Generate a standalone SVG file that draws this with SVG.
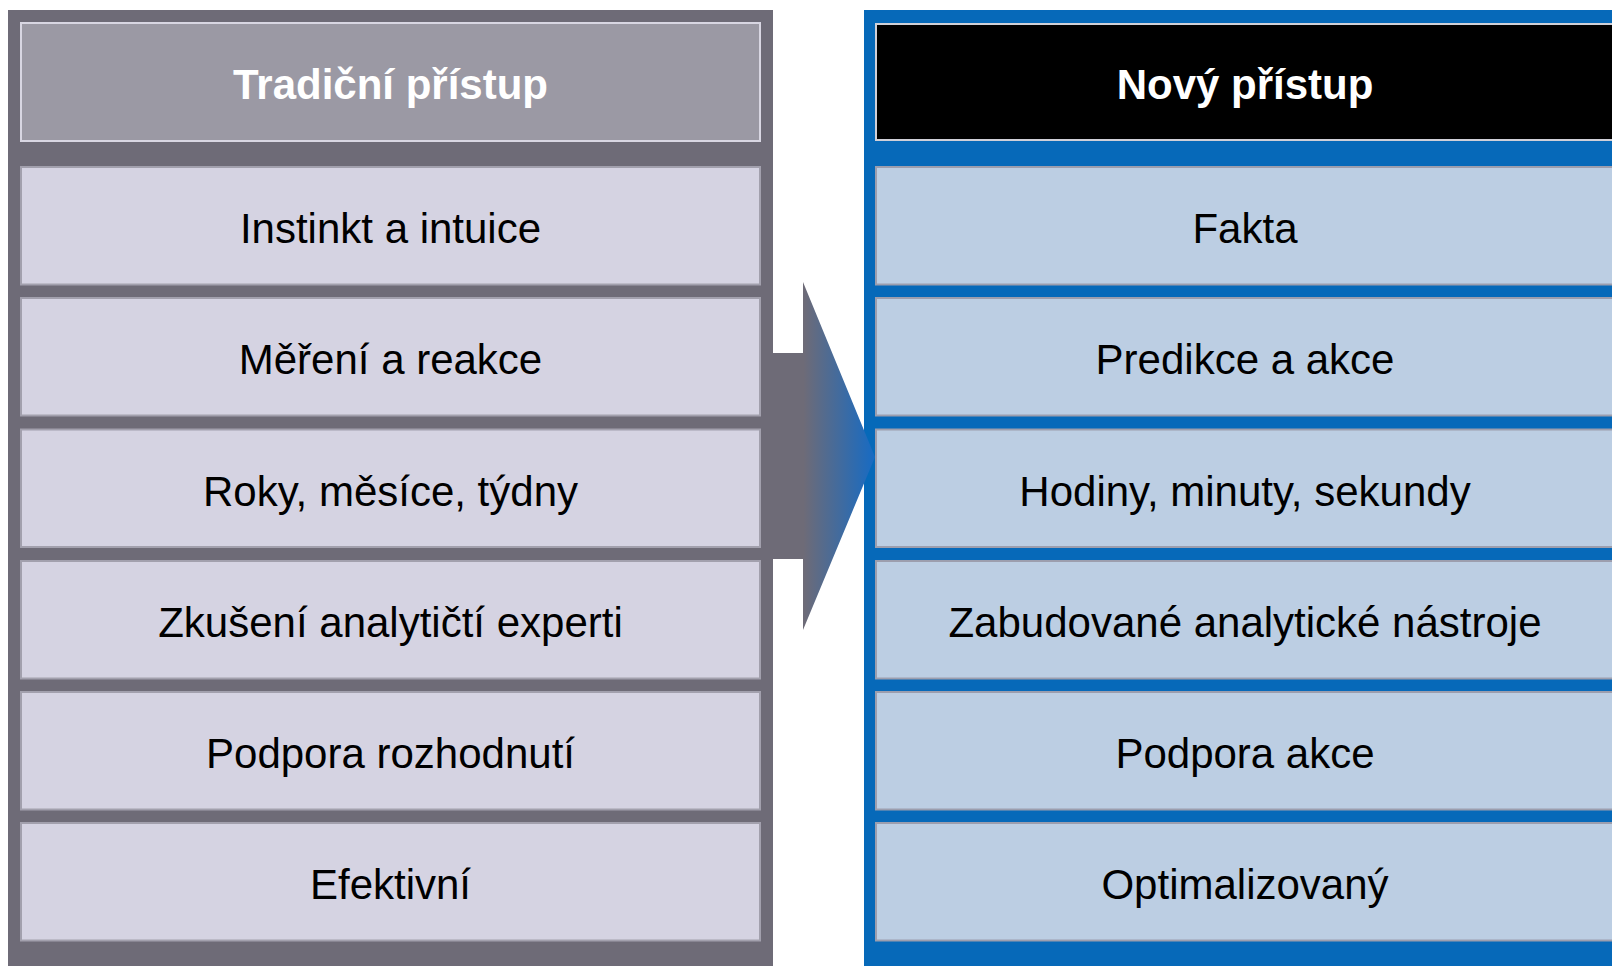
<svg xmlns="http://www.w3.org/2000/svg" width="1612" height="966" viewBox="0 0 1612 966">
<defs>
<style>
.hdr{font-family:"Liberation Sans",Arial,sans-serif;font-size:42px;font-weight:bold;fill:#ffffff;text-anchor:middle}
.txt{font-family:"Liberation Sans",Arial,sans-serif;font-size:42px;fill:#000000;text-anchor:middle}
.lbox{fill:#d5d3e2;stroke:#a2a0ad;stroke-width:2}
.rbox{fill:#bccee3;stroke:#9c9eae;stroke-width:2}
</style>
<linearGradient id="arrowGrad" gradientUnits="userSpaceOnUse" x1="773" y1="0" x2="875" y2="0">
<stop offset="0" stop-color="#6e6b77"/>
<stop offset="0.3" stop-color="#6e6b77"/>
<stop offset="1" stop-color="#166bc4"/>
</linearGradient>
</defs>
<rect width="1612" height="966" fill="#ffffff"/>
<g id="panel-left">
<rect x="8" y="10" width="765" height="956" fill="#6e6b77"/>
</g>
<g id="panel-right">
<rect x="864" y="10" width="760" height="956" fill="#0669b9"/>
</g>
<g id="connectors">
<polygon points="773,353 803,353 803,282 875,457 803,630 803,559 773,559" fill="url(#arrowGrad)"/>
</g>
<g id="header-left">
<rect x="21" y="23" width="739" height="118" fill="#9b99a4" stroke="#d8d6e2" stroke-width="2"/>
<text class="hdr" x="390.5" y="99">Tradiční přístup</text>
</g>
<g id="header-right">
<rect x="876" y="24" width="760" height="116" fill="#000000" stroke="#d0d0d8" stroke-width="2"/>
<text class="hdr" x="1245" y="99">Nový přístup</text>
</g>
<g id="left-1"><rect class="lbox" x="21" y="167" width="739" height="117.5"/><text class="txt" x="390.5" y="243">Instinkt a intuice</text></g>
<g id="left-2"><rect class="lbox" x="21" y="298" width="739" height="117.5"/><text class="txt" x="390.5" y="374">Měření a reakce</text></g>
<g id="left-3"><rect class="lbox" x="21" y="429.5" width="739" height="117.5"/><text class="txt" x="390.5" y="505.5">Roky, měsíce, týdny</text></g>
<g id="left-4"><rect class="lbox" x="21" y="561" width="739" height="117.5"/><text class="txt" x="390.5" y="637">Zkušení analytičtí experti</text></g>
<g id="left-5"><rect class="lbox" x="21" y="692" width="739" height="117.5"/><text class="txt" x="390.5" y="768">Podpora rozhodnutí</text></g>
<g id="left-6"><rect class="lbox" x="21" y="823" width="739" height="117.5"/><text class="txt" x="390.5" y="899">Efektivní</text></g>
<g id="right-1"><rect class="rbox" x="876" y="167" width="760" height="117.5"/><text class="txt" x="1245" y="243">Fakta</text></g>
<g id="right-2"><rect class="rbox" x="876" y="298" width="760" height="117.5"/><text class="txt" x="1245" y="374">Predikce a akce</text></g>
<g id="right-3"><rect class="rbox" x="876" y="429.5" width="760" height="117.5"/><text class="txt" x="1245" y="505.5">Hodiny, minuty, sekundy</text></g>
<g id="right-4"><rect class="rbox" x="876" y="561" width="760" height="117.5"/><text class="txt" x="1245" y="637">Zabudované analytické nástroje</text></g>
<g id="right-5"><rect class="rbox" x="876" y="692" width="760" height="117.5"/><text class="txt" x="1245" y="768">Podpora akce</text></g>
<g id="right-6"><rect class="rbox" x="876" y="823" width="760" height="117.5"/><text class="txt" x="1245" y="899">Optimalizovaný</text></g>
</svg>
